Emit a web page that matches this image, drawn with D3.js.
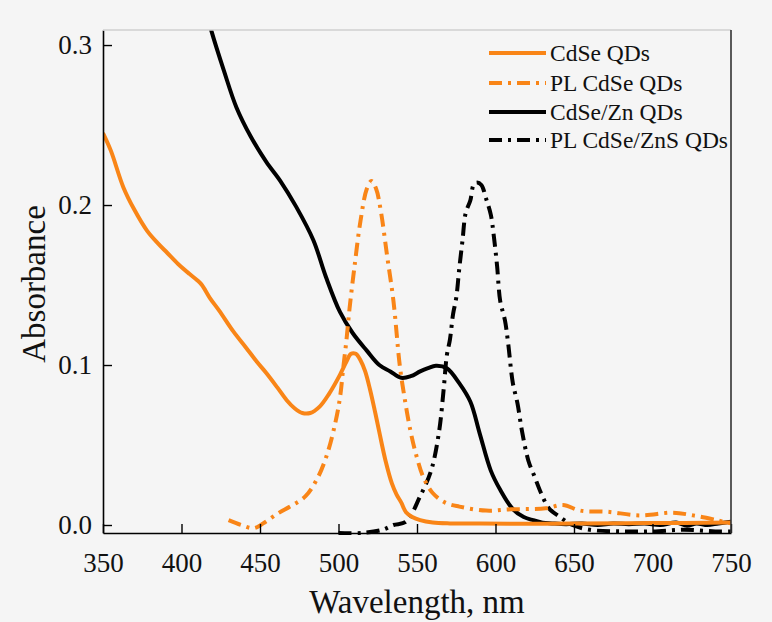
<!DOCTYPE html>
<html>
<head>
<meta charset="utf-8">
<script src="https://cdn.jsdelivr.net/npm/d3@7"></script>
<style>
	body { margin: 0; background: #f5f5f5; }
	text { font-family: "Liberation Serif", "DejaVu Serif", serif; fill: #111; }
</style>
</head>
<body>
<div class="svg-container"></div>
<script>
// set the dimensions and margins of the graph
var pageWidth = 772,
	pageHeight = 622,
	margin = { top: 30, right: 41, bottom: 89, left: 103 },
	width = pageWidth - margin.left - margin.right,		// 628
	height = pageHeight - margin.top - margin.bottom;	// 503

var minX = 350, maxX = 750, minY = -0.005, maxY = 0.3094;

var xTicks = [350, 400, 450, 500, 550, 600, 650, 700, 750];
var yTicks = [0.0, 0.1, 0.2, 0.3];

// absorbance CdSe QDs (orange solid)
var cdseWl  = [350, 355, 363, 370, 378, 385, 391, 398, 405, 410, 413, 418, 424, 433, 441, 448, 454, 461, 467, 472, 477, 482, 488, 494, 501, 505, 508, 511, 514, 517, 520, 523, 526, 530, 534, 537, 540, 543, 547, 552, 560, 571, 590, 620, 650, 700, 750];
var cdseAbs = [0.245, 0.234, 0.211, 0.197, 0.184, 0.176, 0.170, 0.163, 0.157, 0.153, 0.150, 0.142, 0.134, 0.121, 0.111, 0.102, 0.095, 0.086, 0.078, 0.073, 0.070, 0.070, 0.074, 0.082, 0.094, 0.102, 0.107, 0.107, 0.103, 0.096, 0.085, 0.072, 0.058, 0.040, 0.026, 0.019, 0.014, 0.008, 0.005, 0.003, 0.0015, 0.001, 0.001, 0.0008, 0.001, 0.0012, 0.0015];

// PL CdSe QDs (orange dash-dot)
var plCdseWl = [430, 438, 446, 452, 461, 470, 479, 487, 493, 498, 501, 503, 505, 507, 510, 514, 518, 521, 524, 527, 531, 535, 539, 542, 546, 550, 554, 560, 568, 577, 594, 610, 632, 643, 654, 671, 692, 713, 726, 741, 750];
var plCdse   = [0.003, 0.0, -0.002, 0.001, 0.007, 0.012, 0.018, 0.030, 0.045, 0.064, 0.080, 0.098, 0.115, 0.135, 0.160, 0.190, 0.210, 0.215, 0.210, 0.196, 0.168, 0.140, 0.100, 0.080, 0.058, 0.042, 0.030, 0.020, 0.014, 0.0115, 0.009, 0.0098, 0.0104, 0.0125, 0.009, 0.0083, 0.006, 0.0077, 0.006, 0.003, 0.001];

// absorbance CdSe/ZnS QDs (black solid)
var znsWl  = [412, 419, 427, 435, 444, 454, 463, 473, 484, 492, 501, 509, 518, 526, 533, 540, 546, 552, 557, 562, 569, 577, 584, 590, 597, 603, 611, 618, 624, 630, 636, 645, 655, 665, 675, 685, 695, 705, 715, 722, 728, 735, 742, 750];
var znsAbs = [0.335, 0.309, 0.284, 0.261, 0.243, 0.227, 0.215, 0.199, 0.178, 0.155, 0.133, 0.120, 0.109, 0.100, 0.096, 0.092, 0.093, 0.096, 0.098, 0.0995, 0.098, 0.0885, 0.077, 0.057, 0.034, 0.022, 0.010, 0.005, 0.003, 0.0015, 0.001, 0.0005, 0.001, 0.0, 0.001, 0.0005, 0.001, 0.0, 0.0015, -0.0005, 0.001, 0.0, 0.001, 0.002];

// PL CdSe/ZnS QDs (black dash-dot)
var plZnsWl = [500, 515, 528, 535, 543, 552, 559, 564, 567, 569, 571, 573, 575, 577, 579, 581, 584, 586, 588, 591, 594, 597, 599, 601, 603, 606, 608, 611, 614, 617, 621, 625, 629, 634, 641, 649, 660, 680, 700, 720, 740, 750];
var plZns   = [-0.005, -0.005, -0.003, 0.0, 0.002, 0.018, 0.034, 0.058, 0.085, 0.106, 0.116, 0.132, 0.142, 0.161, 0.178, 0.195, 0.203, 0.2125, 0.214, 0.2125, 0.204, 0.194, 0.180, 0.162, 0.140, 0.128, 0.114, 0.089, 0.076, 0.058, 0.040, 0.030, 0.020, 0.0105, 0.005, 0.0, -0.003, -0.004, -0.004, -0.003, -0.004, -0.004];

var seriesNames  = ["CdSe QDs", "PL CdSe QDs", "CdSe/Zn QDs", "PL CdSe/ZnS QDs"];
var seriesColors = ["#f98517", "#f98517", "#000000", "#000000"];
var seriesDash   = [null, "13,6,3,6", null, "13,6,3,6"];

function zip(xs, ys) {
	return xs.map(function(x, i) { return { wl: x, v: ys[i] }; });
}

function plot() {
	var svg = d3.select(".svg-container")
	.append("svg")
	.attr("width", pageWidth)
	.attr("height", pageHeight);

	svg.append("rect")
	.attr("width", pageWidth)
	.attr("height", pageHeight)
	.attr("fill", "#f5f5f5");

	var g = svg.append("g")
	.attr("transform", "translate(" + margin.left + "," + margin.top + ")");

	var xScale = d3.scaleLinear().range([0, width]).domain([minX, maxX]);
	var yScale = d3.scaleLinear().range([height, 0]).domain([minY, maxY]);

	g.append("clipPath").attr("id", "clip")
	.append("rect").attr("x", 0).attr("y", 0).attr("width", width).attr("height", height + 2);

	var allData = [zip(cdseWl, cdseAbs), zip(plCdseWl, plCdse), zip(znsWl, znsAbs), zip(plZnsWl, plZns)];

	var line = d3.line()
	.curve(d3.curveCatmullRom.alpha(0.5))
	.x(function(d) { return xScale(d.wl); })
	.y(function(d) { return yScale(d.v); });

	// draw in order: black dash-dot under, then others
	var order = [3, 2, 1, 0];
	order.forEach(function(i) {
		var p = g.append("path")
		.datum(allData[i])
		.attr("clip-path", "url(#clip)")
		.attr("fill", "none")
		.attr("stroke", seriesColors[i])
		.attr("stroke-width", 4)
		.attr("stroke-linejoin", "round")
		.attr("d", line);
		if (seriesDash[i]) p.attr("stroke-dasharray", seriesDash[i]);
	});

	drawAxes(g, xScale, yScale);
	drawLegend(g);
}

function drawAxes(g, xScale, yScale) {
	var xAxis = d3.axisBottom(xScale).tickValues(xTicks).tickSizeInner(-9).tickSizeOuter(0).tickPadding(20);
	var yAxis = d3.axisLeft(yScale).tickValues(yTicks).tickFormat(d3.format(".1f")).tickSizeInner(-9).tickSizeOuter(0).tickPadding(11);

	var gx = g.append("g")
	.attr("transform", "translate(0," + height + ")")
	.call(xAxis);

	var gy = g.append("g")
	.call(yAxis);

	[gx, gy].forEach(function(a) {
		a.selectAll("path.domain").attr("stroke", "#000").attr("stroke-width", 1.6);
		a.selectAll(".tick line").attr("stroke", "#000").attr("stroke-width", 1.4);
		a.selectAll("text").attr("font-size", 27).attr("font-family", "Liberation Serif").attr("fill", "#111");
	});

	// top and right frame
	g.append("line").attr("x1", 0).attr("x2", width).attr("y1", 0).attr("y2", 0)
	.attr("stroke", "#cfcfcf").attr("stroke-width", 1.5);
	g.append("line").attr("x1", width).attr("x2", width).attr("y1", 0).attr("y2", height)
	.attr("stroke", "#333").attr("stroke-width", 1.6);

	g.append("text")
	.attr("x", 314)
	.attr("y", 583)
	.attr("text-anchor", "middle")
	.attr("font-size", 33)
	.text("Wavelength, nm");

	g.append("text")
	.attr("transform", "rotate(-90)")
	.attr("x", -254)
	.attr("y", -58)
	.attr("text-anchor", "middle")
	.attr("font-size", 33)
	.text("Absorbance");
}

function drawLegend(g) {
	var rows = [23, 53, 82, 110];
	seriesNames.forEach(function(name, i) {
		var l = g.append("line")
		.attr("x1", 386).attr("x2", 443)
		.attr("y1", rows[i]).attr("y2", rows[i])
		.attr("stroke", seriesColors[i])
		.attr("stroke-width", 4);
		if (seriesDash[i]) l.attr("stroke-dasharray", seriesDash[i]);

		g.append("text")
		.attr("x", 447)
		.attr("y", rows[i])
		.attr("dy", "0.35em")
		.attr("font-size", 23.5)
		.text(name);
	});
}

plot();
</script>
</body>
</html>
